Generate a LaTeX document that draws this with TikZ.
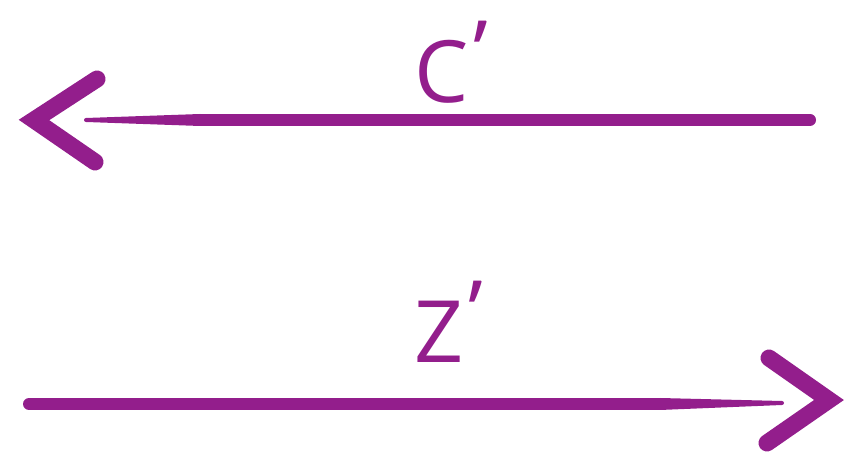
\documentclass[tikz,border=0pt]{standalone}
\usepackage{fontspec}
\setmainfont{Open Sans}
\definecolor{arrowpurple}{HTML}{931E8C}
\begin{document}
\begin{tikzpicture}[x=1pt,y=1pt,
  shaft/.style={line width=12pt,line cap=round,draw=arrowpurple},
  taper/.style={fill=arrowpurple},
  barb/.style={line width=17pt,line cap=round,line join=miter,draw=arrowpurple},
  lbl/.style={text=arrowpurple,font=\fontsize{86}{86}\selectfont,inner sep=0pt,anchor=base west}]
\useasboundingbox (0,0) rectangle (845,462);
% top arrow (points left)
\coordinate (ctail) at (810,342);
\coordinate (cmid) at (200,342);
\coordinate (chead) at (34,342);
\draw[shaft] (ctail) -- (cmid);
\fill[taper] (cmid) ++(0,6) -- (86,344) arc[start angle=90,end angle=270,radius=2] -- (200,336) -- cycle;
\draw[barb] (97,383) -- (chead) -- (95,300);
\node[lbl] (clabel) at (414,359) {C\kern5pt\raisebox{20pt}{’}};
% bottom arrow (points right)
\coordinate (ztail) at (29,58);
\coordinate (zmid) at (660,58);
\coordinate (zhead) at (829,62);
\draw[shaft] (ztail) -- (zmid);
\fill[taper] (zmid) ++(0,6) -- (782,61) arc[start angle=90,end angle=-90,radius=2] -- (660,52) -- cycle;
\draw[barb] (769,104) -- (zhead) -- (767,19);
\node[lbl] (zlabel) at (414,99) {Z\kern5pt\raisebox{20pt}{’}};
\end{tikzpicture}
\end{document}
